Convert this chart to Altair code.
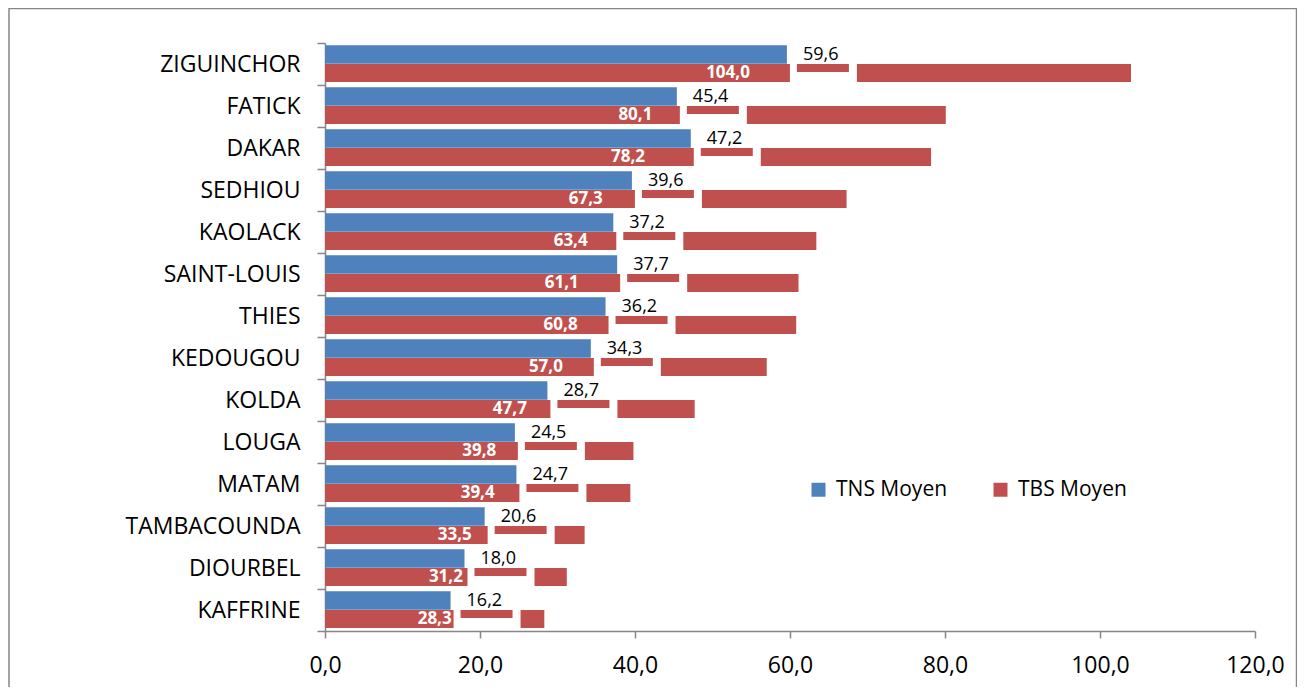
import altair as alt
import pandas as pd

regions = ["ZIGUINCHOR", "FATICK", "DAKAR", "SEDHIOU", "KAOLACK", "SAINT-LOUIS", "THIES",
           "KEDOUGOU", "KOLDA", "LOUGA", "MATAM", "TAMBACOUNDA", "DIOURBEL", "KAFFRINE"]
tns = [59.6, 45.4, 47.2, 39.6, 37.2, 37.7, 36.2, 34.3, 28.7, 24.5, 24.7, 20.6, 18.0, 16.2]
tbs = [104.0, 80.1, 78.2, 67.3, 63.4, 61.1, 60.8, 57.0, 47.7, 39.8, 39.4, 33.5, 31.2, 28.3]
series_names = ["TNS Moyen", "TBS Moyen"]
series_colors = ["#4F81BD", "#C0504D"]
x_ticks = [0, 20, 40, 60, 80, 100, 120]

FONT = "Open Sans"
GRAY = "#868686"

wide = pd.DataFrame({"region": regions, "tns": tns, "tbs": tbs})
long = pd.concat([
    pd.DataFrame({"region": regions, "series": series_names[0], "value": tns}),
    pd.DataFrame({"region": regions, "series": series_names[1], "value": tbs}),
])

ysc = alt.Scale(domain=regions, paddingInner=0, paddingOuter=0)
xsc = alt.Scale(domain=[0, 120], nice=False)
colsc = alt.Scale(domain=series_names, range=series_colors)

yaxis = alt.Axis(tickBand="extent", tickSize=8, tickColor=GRAY, tickWidth=1.5,
                 domainColor=GRAY, domainWidth=1.5, labelFontSize=23,
                 labelFont=FONT, labelColor="black", labelPadding=17, grid=False)
xaxis = alt.Axis(values=x_ticks, grid=False, tickSize=7, tickColor=GRAY, tickWidth=1.5,
                 domainColor=GRAY, domainWidth=1.5, labelFontSize=23, labelFont=FONT,
                 labelColor="black", labelPadding=16, labelFlush=False,
                 labelExpr="replace(format(datum.value, '.1f'), '.', ',')")


def Y():
    return alt.Y("region:N", scale=ysc, sort=regions, title=None, axis=yaxis)


def Xq(field):
    return alt.X(field, scale=xsc, title=None, axis=xaxis)


base_long = alt.Chart(long)
base_wide = alt.Chart(wide).transform_calculate(
    tns_lab="replace(format(datum.tns, '.1f'), '.', ',')",
    tbs_lab="replace(format(datum.tbs, '.1f'), '.', ',')",
    mid="datum.tbs / 2",
)

legend = alt.Legend(title=None, orient="none", legendX=483, legendY=436, direction="horizontal",
                    symbolType="square", symbolSize=196, symbolStrokeWidth=0, labelFontSize=21,
                    labelFont=FONT, labelColor="black", labelOffset=7, columnPadding=42, padding=0)

border = alt.Chart(pd.DataFrame({"a": [0]})).mark_rect(
    fill=None, stroke=GRAY, strokeWidth=1.5
).encode(x=alt.value(-316), x2=alt.value(971.5), y=alt.value(-34.5), y2=alt.value(720))

blue = base_long.transform_filter(alt.datum.series == series_names[0]).mark_bar(
    height=18.5, yOffset=-9.5
).encode(x=Xq("value:Q"), y=Y(), color=alt.Color("series:N", scale=colsc, legend=legend))

red = base_long.transform_filter(alt.datum.series == series_names[1]).mark_bar(
    height=18, yOffset=9
).encode(x=Xq("value:Q"), y=Y(), color=alt.Color("series:N", scale=colsc, legend=legend))

white_box = base_wide.mark_bar(height=18.5, yOffset=9, xOffset=3, x2Offset=70, color="white").encode(
    x=Xq("tns:Q"), x2="tns:Q", y=Y())
inner_red = base_wide.mark_bar(height=8, yOffset=4, xOffset=10, x2Offset=62, color=series_colors[1]).encode(
    x=Xq("tns:Q"), x2="tns:Q", y=Y())

tns_text = base_wide.mark_text(align="left", baseline="middle", dx=16, dy=-9.5,
                               font=FONT, fontSize=18, color="black").encode(
    x=Xq("tns:Q"), y=Y(), text="tns_lab:N")
tbs_text = base_wide.mark_text(align="center", baseline="middle", dy=9,
                               font=FONT, fontSize=17, fontWeight="bold", color="white").encode(
    x=Xq("mid:Q"), y=Y(), text="tbs_lab:N")

chart = alt.layer(border, blue, red, white_box, inner_red, tns_text, tbs_text).properties(
    width=930, height=588,
    autosize=alt.AutoSizeParams(type="none"),
    padding={"left": 317, "top": 35, "right": 42, "bottom": 56},
).configure(background="white", view=alt.ViewConfig(stroke=None))

chart.save("out.html", embed_options={"renderer": "svg", "actions": False})
